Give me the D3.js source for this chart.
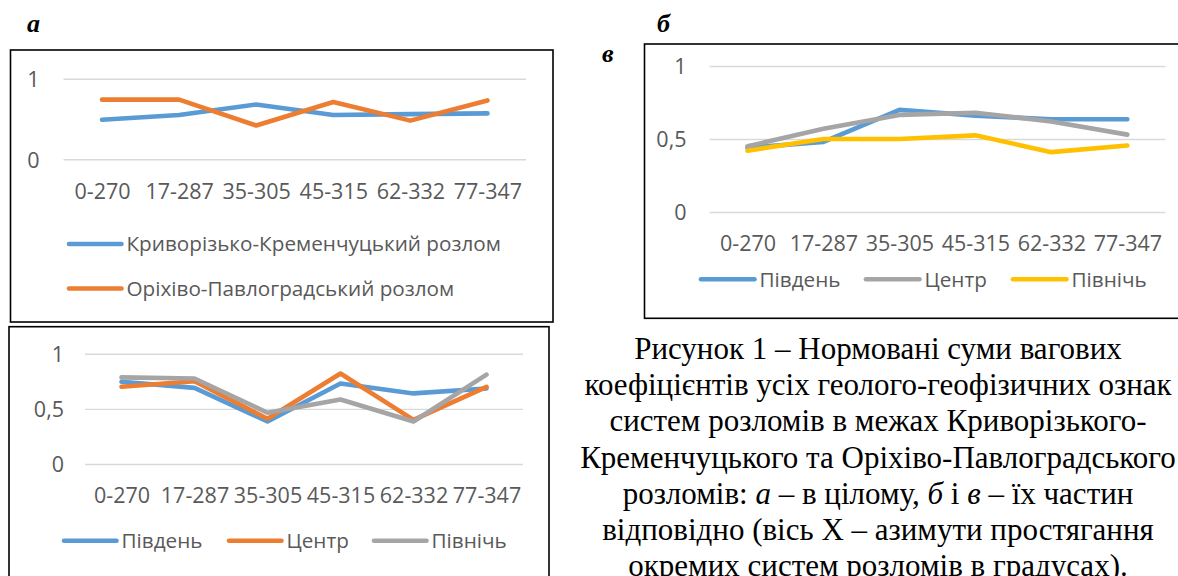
<!DOCTYPE html>
<html>
<head>
<meta charset="utf-8">
<script src="https://cdn.jsdelivr.net/npm/d3@7"></script>
<style>
  html, body { margin: 0; padding: 0; background: #fff; }
  svg { display: block; }
</style>
</head>
<body>
<svg id="fig" width="1178" height="576"></svg>
<script>
// ---------- DATA ----------
const categories = ["0-270", "17-287", "35-305", "45-315", "62-332", "77-347"];

// chart a
const seriesNamesA = ["Криворізько-Кременчуцький розлом", "Оріхіво-Павлоградський розлом"];
const kryvorizkyi = [0.49, 0.55, 0.68, 0.55, 0.56, 0.57];
const orikhivskyi = [0.74, 0.74, 0.42, 0.71, 0.48, 0.73];
const ticksA = [0, 1];

// chart б (top right)
const seriesNamesParts = ["Південь", "Центр", "Північь"];
const southB  = [0.44, 0.48, 0.70, 0.66, 0.635, 0.635];
const centerB = [0.45, 0.57, 0.665, 0.68, 0.62, 0.53];
const northB  = [0.42, 0.50, 0.50, 0.525, 0.41, 0.455];

// chart в (bottom left)
const southV  = [0.745, 0.69, 0.385, 0.73, 0.64, 0.685];
const centerV = [0.70, 0.75, 0.41, 0.82, 0.40, 0.70];
const northV  = [0.785, 0.775, 0.465, 0.585, 0.385, 0.81];
const ticksParts = [0, 0.5, 1];

const captionLines = [
  "Рисунок 1 – Нормовані суми вагових",
  "коефіцієнтів усіх геолого-геофізичних ознак",
  "систем розломів в межах Криворізького-",
  "Кременчуцького та Оріхіво-Павлоградського",
  null,
  "відповідно (вісь X – азимути простягання",
  "окремих систем розломів в градусах)."
];

// ---------- STYLE ----------
const C_BLUE = "#5B9BD5", C_ORANGE = "#ED7D31", C_GRAY = "#A5A5A5", C_YELLOW = "#FFC000";
const TXT = "#595959", GRID = "#D9D9D9";
const FONT = "'Open Sans', sans-serif";
const TICK_FS = 21.5, LEG_FS = 20.7;
const locale = d3.formatLocale({decimal: ",", thousands: " ", grouping: [3], currency: ["", ""]});
const fmt = locale.format("~g");

const svg = d3.select("#fig");
svg.append("rect").attr("width", 1178).attr("height", 576).attr("fill", "#fff");

function drawChart(o) {
  const g = svg.append("g");
  // frame
  g.append("rect")
    .attr("x", o.box[0]).attr("y", o.box[1]).attr("width", o.box[2]).attr("height", o.box[3])
    .attr("fill", "#fff").attr("stroke", "#000").attr("stroke-width", 1.6);

  const x = d3.scalePoint().domain(categories).range([o.left, o.right]).padding(0.5);
  const y = d3.scaleLinear().domain([0, 1]).range([o.bottom, o.top]);

  // y axis + gridlines
  const ya = g.append("g").attr("transform", `translate(${o.left},0)`)
    .call(d3.axisLeft(y).tickValues(o.ticks).tickFormat(fmt)
      .tickSize(-(o.right - o.left)).tickPadding(o.yPad));
  ya.select(".domain").remove();
  ya.selectAll(".tick line").attr("stroke", GRID).attr("stroke-width", 1.4);
  ya.selectAll(".tick text").attr("fill", TXT).attr("font-size", TICK_FS).attr("font-family", FONT)
    .attr("dy", "0.36em");

  // x axis labels
  const xa = g.append("g").attr("transform", `translate(0,${o.bottom})`)
    .call(d3.axisBottom(x).tickSize(0).tickPadding(o.xOff));
  xa.select(".domain").remove();
  xa.selectAll(".tick text").attr("fill", TXT).attr("font-size", TICK_FS).attr("font-family", FONT)
    .attr("dy", "0.36em");

  // lines
  const line = d3.line().x((d, i) => x(categories[i])).y(d => y(d));
  o.series.forEach(s => {
    g.append("path").datum(s.values).attr("d", line)
      .attr("fill", "none").attr("stroke", s.color).attr("stroke-width", 4.6)
      .attr("stroke-linejoin", "round").attr("stroke-linecap", "round");
  });

  // legend
  o.series.forEach((s, i) => {
    const p = o.legend[i];
    g.append("line").attr("x1", p[0]).attr("x2", p[0] + o.sampleLen).attr("y1", p[1]).attr("y2", p[1])
      .attr("stroke", s.color).attr("stroke-width", 4.6).attr("stroke-linecap", "round");
    g.append("text").attr("x", p[0] + o.sampleLen + 5).attr("y", p[1]).attr("dy", "0.36em")
      .attr("fill", TXT).attr("font-size", LEG_FS).attr("font-family", FONT).text(s.name);
  });
}

// chart a
drawChart({
  box: [10.5, 50, 542.5, 272],
  left: 63.5, right: 526, top: 78.7, bottom: 159.3,
  ticks: ticksA, yPad: 24, xOff: 31.5,
  series: [
    {name: seriesNamesA[0], values: kryvorizkyi, color: C_BLUE},
    {name: seriesNamesA[1], values: orikhivskyi, color: C_ORANGE}
  ],
  legend: [[69, 244], [69, 288.5]], sampleLen: 52.5
});

// chart б (top right)
drawChart({
  box: [644.5, 44, 560, 274.3],
  left: 709.5, right: 1165.3, top: 66, bottom: 212,
  ticks: ticksParts, yPad: 23, xOff: 31.3,
  series: [
    {name: seriesNamesParts[0], values: southB, color: C_BLUE},
    {name: seriesNamesParts[1], values: centerB, color: C_GRAY},
    {name: seriesNamesParts[2], values: northB, color: C_YELLOW}
  ],
  legend: [[701, 279.3], [866, 279.3], [1013, 279.3]], sampleLen: 53.5
});

// chart в (bottom left)
drawChart({
  box: [9, 326.7, 540, 260],
  left: 85, right: 523, top: 353.7, bottom: 464,
  ticks: ticksParts, yPad: 21, xOff: 31,
  series: [
    {name: seriesNamesParts[0], values: southV, color: C_BLUE},
    {name: seriesNamesParts[1], values: centerV, color: C_ORANGE},
    {name: seriesNamesParts[2], values: northV, color: C_GRAY}
  ],
  legend: [[64, 540.7], [229, 540.7], [374, 540.7]], sampleLen: 52.5
});

// panel letters
const SERIF = "'Liberation Serif', 'Times New Roman', serif";
[["а", 27, 32], ["б", 657, 32], ["в", 602, 62]].forEach(([t, x, y]) => {
  svg.append("text").attr("x", x).attr("y", y).attr("font-family", SERIF)
    .attr("font-size", 26).attr("font-weight", "bold").attr("font-style", "italic").text(t);
});

// caption
const cap = svg.append("text").attr("text-anchor", "middle").attr("font-family", SERIF)
  .attr("font-size", 31).attr("fill", "#000");
const capX = 878, capY0 = 359, capStep = 36.2;
captionLines.forEach((t, i) => {
  const ts = cap.append("tspan").attr("x", capX).attr("y", capY0 + i * capStep);
  if (t !== null) { ts.text(t); }
  else {
    ts.append("tspan").text("розломів: ");
    ts.append("tspan").attr("font-style", "italic").text("а");
    ts.append("tspan").text(" – в цілому, ");
    ts.append("tspan").attr("font-style", "italic").text("б");
    ts.append("tspan").text(" і ");
    ts.append("tspan").attr("font-style", "italic").text("в");
    ts.append("tspan").text(" – їх частин");
  }
});
</script>
</body>
</html>
